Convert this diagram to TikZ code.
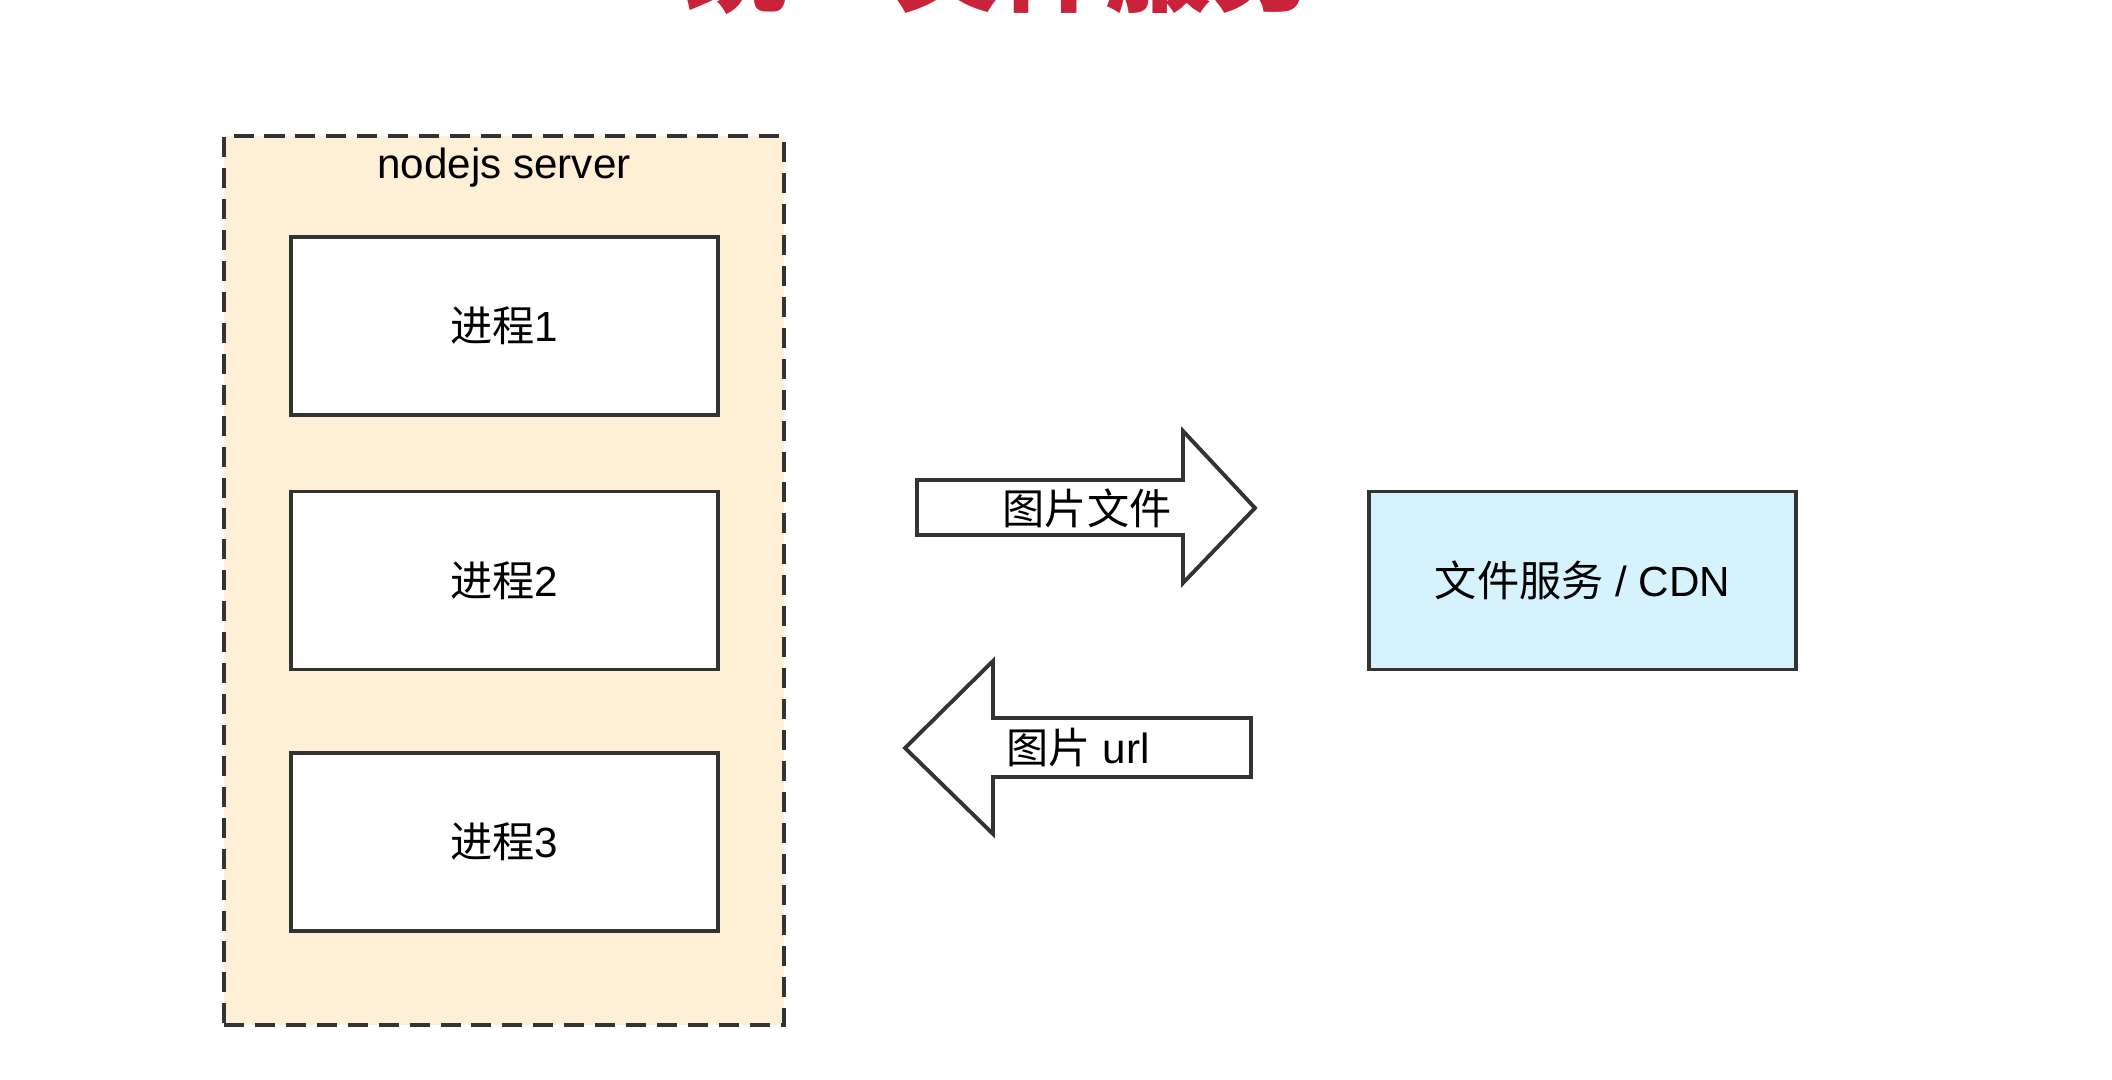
\documentclass[tikz,border=0pt]{standalone}
\usepackage{fontspec}
\setmainfont{Liberation Sans}
\newfontfamily\cjk{Noto Sans CJK SC}
\usepackage{xcolor}
\usepackage{tikz}
\usetikzlibrary{positioning}
\definecolor{serverfill}{HTML}{FDF0D6}
\definecolor{cdnfill}{HTML}{D6F2FC}
\definecolor{titlered}{HTML}{C8233A}
\definecolor{edgegray}{HTML}{333333}

\begin{document}
\begin{tikzpicture}[
  font=\fontsize{12}{14}\selectfont,
  procbox/.style={draw=edgegray, line width=1.1pt, fill=white,
    minimum width=4.27cm, minimum height=1.78cm, inner sep=0pt},
  serverbox/.style={draw=edgegray, line width=1.1pt, fill=serverfill,
    dash pattern=on 5.7pt off 3.1pt, minimum width=5.6cm, minimum height=8.89cm},
  blockarrow/.style={draw=edgegray, line width=1.1pt, fill=white, line join=miter}
]
  % Canvas
  \useasboundingbox (0,0) rectangle (21.12,10.8);

  % Title, cut off by the top edge
  \node[anchor=base, text=titlered, font=\fontsize{30}{32}\selectfont\cjk\bfseries]
    (title) at (10.0,10.76) {统一文件服务};

  % Server frame
  \node[serverbox] (server) at (5.04,4.995) {};
  \node (serverlabel) at (5.04,9.12) {nodejs server};

  % Processes
  \foreach \i/\y in {1/7.54, 2/4.995, 3/2.38}{
    \node[procbox] (p\i) at (5.045,\y) {{\cjk 进程}\i};
  }

  % File service
  \node[procbox, fill=cdnfill] (cdn) at (15.825,4.995) {{\cjk 文件服务} / CDN};

  % Upload arrow
  \draw[blockarrow] (9.17,6.00) -- (11.83,6.00) -- (11.83,6.49) -- (12.55,5.72)
    -- (11.83,4.97) -- (11.83,5.45) -- (9.17,5.45) -- cycle;
  \node (upload) at (10.87,5.72) {\cjk 图片文件};

  % Answer arrow
  \draw[blockarrow] (12.51,3.62) -- (9.93,3.62) -- (9.93,4.19) -- (9.05,3.32)
    -- (9.93,2.46) -- (9.93,3.03) -- (12.51,3.03) -- cycle;
  \node (answer) at (10.78,3.32) {{\cjk 图片} url};
\end{tikzpicture}
\end{document}
